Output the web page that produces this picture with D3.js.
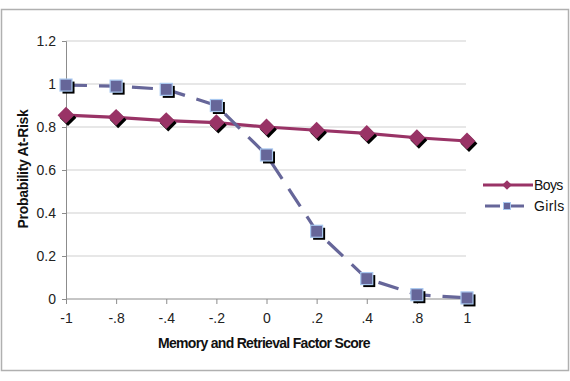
<!DOCTYPE html>
<html><head><meta charset="utf-8">
<script src="https://cdn.jsdelivr.net/npm/d3@7"></script>
<style>body{margin:0;background:#fff;} svg{display:block;font-family:"Liberation Sans",Arial,sans-serif;}</style>
</head><body>
<svg id="c" width="570" height="381"></svg>
<script>
const categories = ["-1", "-.8", "-.4", "-.2", "0", ".2", ".4", ".8", "1"];
const boys = [0.855, 0.845, 0.83, 0.82, 0.80, 0.785, 0.77, 0.75, 0.735];
const girls = [0.995, 0.99, 0.975, 0.90, 0.67, 0.315, 0.095, 0.02, 0.005];
const yTicks = [0, 0.2, 0.4, 0.6, 0.8, 1, 1.2];
const yTickLabels = ["0", "0.2", "0.4", "0.6", "0.8", "1", "1.2"];
const seriesNames = ["Boys", "Girls"];

const svg = d3.select("#c");
svg.append("rect").attr("x",1.5).attr("y",9.5).attr("width",567).attr("height",361)
  .attr("fill","#fff").attr("stroke","#b0b0b0").attr("stroke-width",1.5);

const x = d3.scalePoint().domain(categories).range([66, 467]);
const y = d3.scaleLinear().domain([0, 1.2]).range([299, 41]);

// gridlines
svg.append("g").selectAll("line").data(yTicks.slice(1)).join("line")
  .attr("x1",66).attr("x2",466).attr("y1",d=>y(d)).attr("y2",d=>y(d))
  .attr("stroke","#cfcfcf").attr("stroke-width",1);

const tickFont = "Liberation Sans, Arial, sans-serif";
// axes
const yAxis = d3.axisLeft(y).tickValues(yTicks).tickFormat((d,i)=>yTickLabels[i]).tickSize(4).tickPadding(6);
const gy = svg.append("g").attr("transform","translate(66,0)").call(yAxis);
gy.select(".domain").attr("stroke","#8c8c8c");
gy.selectAll(".tick line").attr("stroke","#8c8c8c");
gy.selectAll(".tick text").attr("font-size",14).attr("fill","#222").attr("font-family",tickFont);

const xAxis = d3.axisBottom(x).tickSize(5).tickPadding(9);
const gx = svg.append("g").attr("transform","translate(0,299)").call(xAxis);
gx.select(".domain").attr("stroke","#8c8c8c").attr("d","M66,0H467");
gx.selectAll(".tick line").attr("stroke","#8c8c8c");
gx.selectAll(".tick text").attr("font-size",14).attr("fill","#222").attr("font-family",tickFont);

// titles
svg.append("text").attr("x",264).attr("y",348).attr("text-anchor","middle")
  .attr("font-size",14).attr("font-weight","bold").attr("letter-spacing","-0.7").attr("fill","#111")
  .text("Memory and Retrieval Factor Score");
svg.append("text").attr("transform","translate(28,169) rotate(-90)").attr("text-anchor","middle")
  .attr("font-size",14).attr("font-weight","bold").attr("letter-spacing","-0.3").attr("fill","#111")
  .text("Probability At-Risk");

const boyColor = "#993366", girlColor = "#666699";
const line = d3.line().x((d,i)=>x(categories[i])).y(d=>y(d));

// Boys
svg.append("path").datum(boys).attr("d",line).attr("fill","none")
  .attr("stroke",boyColor).attr("stroke-width",3.2);
// Girls
svg.append("path").datum(girls).attr("d",line).attr("fill","none")
  .attr("stroke",girlColor).attr("stroke-width",3.2).attr("stroke-dasharray","21,12");

const diamond = d3.symbol().type(d3.symbolDiamond2).size(180);
function diamondMarkers(data, dx, dy, fill){
  svg.append("g").selectAll("path").data(data).join("path")
    .attr("d", diamond)
    .attr("transform",(d,i)=>`translate(${x(categories[i])+dx},${y(d)+dy})`)
    .attr("fill",fill);
}
diamondMarkers(boys, 2, 2.5, "#000");
diamondMarkers(boys, 0, 0, boyColor);

function squareMarkers(data, dx, dy, fill, stroke){
  svg.append("g").selectAll("rect").data(data).join("rect")
    .attr("x",(d,i)=>x(categories[i])-6+dx).attr("y",d=>y(d)-6+dy)
    .attr("width",12).attr("height",12).attr("fill",fill)
    .attr("stroke",stroke).attr("stroke-width",stroke==="none"?0:1.2);
}
squareMarkers(girls, 2.5, 2.5, "#000", "none");
squareMarkers(girls, 0, 0, girlColor, "#a8c8f0");

// Legend
const lg = svg.append("g");
lg.append("line").attr("x1",483).attr("x2",533).attr("y1",185).attr("y2",185)
  .attr("stroke",boyColor).attr("stroke-width",3);
lg.append("path").attr("d",d3.symbol().type(d3.symbolDiamond2).size(60)).attr("transform","translate(507,185)").attr("fill",boyColor);
lg.append("text").attr("x",534).attr("y",190).attr("font-size",14).attr("letter-spacing","-0.6").attr("fill","#111").text(seriesNames[0]);
lg.append("line").attr("x1",485).attr("x2",530).attr("y1",206).attr("y2",206)
  .attr("stroke",girlColor).attr("stroke-width",3).attr("stroke-dasharray","15,9");
lg.append("rect").attr("x",503.5).attr("y",202.5).attr("width",7).attr("height",7).attr("fill",girlColor).attr("stroke","#a8c8f0").attr("stroke-width",1);
lg.append("text").attr("x",534).attr("y",211).attr("font-size",14).attr("letter-spacing","0.4").attr("fill","#111").text(seriesNames[1]);
</script>
</body></html>
